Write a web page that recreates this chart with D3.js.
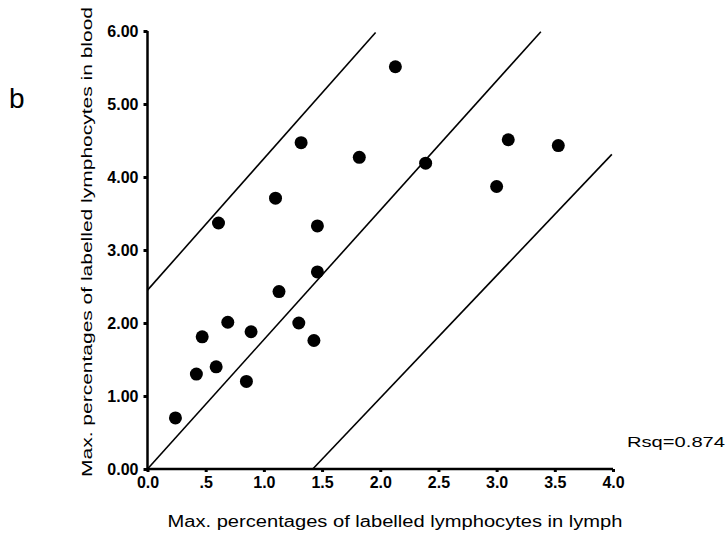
<!DOCTYPE html>
<html lang="en">
<head>
  <meta charset="utf-8">
  <title>Lymph vs blood</title>
  <script src="https://d3js.org/d3.v7.min.js"></script>
  <style>
    body { margin: 0; background: white; }
    text { font-family: "Liberation Sans", Arial, sans-serif; fill: black; }
  </style>
</head>
<body>
<script>
  // points (x = lymph, y = blood)
  var lymph = [2.13, 1.32, 1.82, 2.39, 3.10, 3.53, 3.00, 1.10, 0.61, 1.46, 1.46,
               1.13, 0.69, 0.47, 0.89, 1.30, 1.43, 0.59, 0.42, 0.85, 0.24];
  var blood = [5.51, 4.47, 4.27, 4.19, 4.51, 4.43, 3.87, 3.71, 3.37, 3.33, 2.70,
               2.43, 2.01, 1.81, 1.88, 2.00, 1.76, 1.40, 1.30, 1.20, 0.70];

  // the three reference lines, endpoints [x1, y1, x2, y2]
  var lineEnds = [[0, 2.45, 1.96, 5.98],
                  [0, 0, 3.38, 5.99],
                  [1.42, 0, 3.99, 4.31]];

  var xTicks = [0, 0.5, 1, 1.5, 2, 2.5, 3, 3.5, 4];
  var xTickLabels = ["0.0", ".5", "1.0", "1.5", "2.0", "2.5", "3.0", "3.5", "4.0"];
  var yTicks = [0, 1, 2, 3, 4, 5, 6];
  var yTickLabels = ["0.00", "1.00", "2.00", "3.00", "4.00", "5.00", "6.00"];

  var width = 728, height = 545;
  var svg = d3.select("body").append("svg")
              .attr("width", width).attr("height", height);

  var x = d3.scaleLinear().domain([0, 4]).range([147.5, 613]);
  var y = d3.scaleLinear().domain([0, 6]).range([469, 31]);

  var xAxis = svg.append("g").attr("transform", "translate(0,469)")
      .call(d3.axisBottom(x).tickValues(xTicks)
              .tickFormat(function(d, i){ return xTickLabels[i]; })
              .tickSize(3).tickPadding(5));
  var yAxis = svg.append("g").attr("transform", "translate(147.5,0)")
      .call(d3.axisLeft(y).tickValues(yTicks)
              .tickFormat(function(d, i){ return yTickLabels[i]; })
              .tickSize(4).tickPadding(5));

  [xAxis, yAxis].forEach(function(a){
    a.attr("font-size", null).attr("font-family", null);
    a.select(".domain").attr("stroke", "black").attr("stroke-width", 2.5);
    a.selectAll(".tick line").attr("stroke", "black").attr("stroke-width", 3);
    a.selectAll(".tick text").attr("fill", "black")
     .style("font-size", "16px").style("font-weight", "bold");
  });
  xAxis.select(".domain").attr("d", "M147.5,0H613");
  yAxis.select(".domain").attr("d", "M0,469V31");

  svg.append("g").selectAll("line").data(lineEnds).enter().append("line")
     .attr("x1", function(d){ return x(d[0]); })
     .attr("y1", function(d){ return y(d[1]); })
     .attr("x2", function(d){ return x(d[2]); })
     .attr("y2", function(d){ return y(d[3]); })
     .attr("stroke", "black").attr("stroke-width", 1.6);

  svg.append("g").selectAll("circle").data(lymph).enter().append("circle")
     .attr("cx", function(d){ return x(d); })
     .attr("cy", function(d, i){ return y(blood[i]); })
     .attr("r", 6.5).attr("fill", "black");

  svg.append("text").attr("x", 9).attr("y", 108)
     .style("font-size", "28px").text("b");

  svg.append("text")
     .attr("transform", "translate(92,242) rotate(-90)")
     .attr("text-anchor", "middle")
     .style("font-size", "15.5px")
     .attr("textLength", 470).attr("lengthAdjust", "spacingAndGlyphs")
     .text("Max. percentages of labelled lymphocytes in blood");

  svg.append("text").attr("x", 395).attr("y", 527)
     .attr("text-anchor", "middle")
     .style("font-size", "16px")
     .attr("textLength", 455).attr("lengthAdjust", "spacingAndGlyphs")
     .text("Max. percentages of labelled lymphocytes in lymph");

  svg.append("text").attr("x", 627).attr("y", 447)
     .style("font-size", "14px")
     .attr("textLength", 98).attr("lengthAdjust", "spacingAndGlyphs")
     .text("Rsq=0.874");
</script>
</body>
</html>
